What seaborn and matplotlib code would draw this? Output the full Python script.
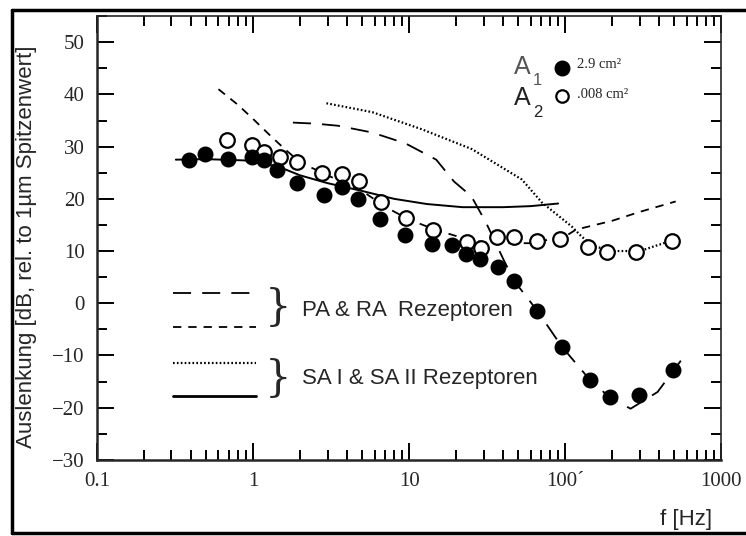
import numpy as np
import pandas as pd
import matplotlib.pyplot as plt
import matplotlib.lines as mlines
from matplotlib.ticker import LogLocator, MultipleLocator, FixedLocator, FixedFormatter
import seaborn as sns

# -------------------------
# Data
# -------------------------
f_a1 = [0.39, 0.49, 0.69, 0.98, 1.18, 1.43, 1.9, 2.86, 3.73, 4.72, 6.5, 9.4,
        14.0, 18.8, 23.1, 28.4, 37.1, 46.9, 66.0, 95.0, 144.0, 192.0, 295.0, 493.0]
v_a1 = [27.4, 28.5, 27.7, 28.1, 27.4, 25.6, 23.1, 20.8, 22.2, 19.9, 16.2, 13.0,
        11.4, 11.2, 9.5, 8.5, 7.0, 4.3, -1.4, -8.3, -14.7, -17.9, -17.6, -12.8]

f_a2 = [0.68, 0.98, 1.17, 1.48, 1.92, 2.78, 3.73, 4.8, 6.6, 9.5, 14.2, 23.5,
        28.9, 36.4, 46.9, 65.8, 92.0, 139.0, 184.0, 282.0, 480.0]
v_a2 = [31.2, 30.4, 28.9, 28.1, 27.0, 24.9, 24.7, 23.5, 19.3, 16.4, 14.1, 11.8,
        10.5, 12.6, 12.6, 12.0, 12.4, 10.8, 9.9, 9.9, 12.0]

# PA receptors (long dashes)
f_pa = [1.8, 2.5, 3.5, 5.8, 9.5, 14.9, 19.4, 25.0, 31.0, 40.0, 47.0, 66.0,
        95.0, 144.0, 192.0, 262.0, 390.0, 550.0]
v_pa = [34.6, 34.4, 34.0, 32.7, 30.6, 27.5, 23.3, 20.5, 15.5, 8.5, 4.3, -1.4,
        -8.3, -14.7, -18.0, -20.2, -17.0, -11.0]

# RA receptors (short dashes)
f_ra = [0.6, 0.8, 1.0, 1.3, 1.6, 2.0, 3.0, 5.0, 7.0, 10.0, 15.0, 25.0, 35.0,
        60.0, 100.0, 117.0, 200.0, 300.0, 510.0]
v_ra = [41.0, 38.0, 35.3, 32.0, 29.5, 27.0, 24.5, 21.5, 18.5, 16.0, 14.0, 12.0,
        11.5, 11.5, 12.8, 14.1, 15.8, 17.5, 19.5]

# SA I receptors (dotted)
f_sa1 = [2.95, 5.8, 12.1, 25.3, 52.7, 70.8, 110.0, 127.0, 150.0, 200.0, 300.0, 480.0]
v_sa1 = [38.3, 36.6, 33.3, 29.5, 23.7, 19.3, 14.7, 12.8, 11.0, 10.0, 10.0, 12.0]

# SA II receptors (solid)
f_sa2 = [0.32, 0.5, 1.0, 1.5, 2.0, 3.0, 5.0, 8.0, 13.0, 22.0, 40.0, 60.0, 90.0]
v_sa2 = [27.5, 27.6, 27.3, 26.0, 24.5, 23.0, 21.5, 20.0, 19.0, 18.4, 18.4, 18.6, 19.1]

y_ticks = [-30, -20, -10, 0, 10, 20, 30, 40, 50]
x_ticks = [0.1, 1, 10, 100, 1000]
x_labels = ["0.1", "1", "10", "100\u00b4", "1000"]

# -------------------------
# Style
# -------------------------
sns.set_style("ticks")
plt.rcParams["lines.scale_dashes"] = False
plt.rcParams["font.family"] = ["Liberation Sans", "DejaVu Sans"]

LONG, SHORT, DOT = (13, 8), (6, 5), (1.2, 1.6)

fig = plt.figure(figsize=(7.46, 5.36), dpi=100)
ax = fig.add_axes([0.130, 0.142, 0.837, 0.828])

curves = [
    (f_pa, v_pa, LONG, 1.3),
    (f_ra, v_ra, SHORT, 1.3),
    (f_sa1, v_sa1, DOT, 1.6),
    (f_sa2, v_sa2, None, 1.4),
]
for fx, vy, dash, lw in curves:
    df = pd.DataFrame({"f": fx, "v": vy})
    sns.lineplot(data=df, x="f", y="v", sort=False, color="black", lw=lw, ax=ax)
    if dash is not None:
        ax.lines[-1].set_dashes(dash)

sns.scatterplot(x=f_a2, y=v_a2, s=110, facecolor="white", edgecolor="black",
                linewidth=1.6, ax=ax, zorder=5)
sns.scatterplot(x=f_a1, y=v_a1, s=110, color="black", edgecolor="black",
                linewidth=1, ax=ax, zorder=6)

# key lines for receptor types
key_x = [0.306, 1.05]
for yy, dash in [(2.0, LONG), (-4.5, SHORT), (-11.4, DOT), (-17.8, None)]:
    ln, = ax.plot(key_x, [yy, yy], color="black", lw=1.3)
    if dash is not None:
        ln.set_dashes(dash)
        if dash == DOT:
            ln.set_linewidth(1.6)
    else:
        ln.set_linewidth(2)

ax.text(1.18, -1.0, "}", fontsize=30, family="DejaVu Serif", va="center", ha="left")
ax.text(1.18, -14.6, "}", fontsize=30, family="DejaVu Serif", va="center", ha="left")
ax.text(2.05, -1.3, "PA & RA  Rezeptoren", fontsize=16, va="center", ha="left")
ax.text(2.05, -14.5, "SA I & SA II Rezeptoren", fontsize=16, va="center", ha="left")

# size legend
ax.text(47, 45.3, "A", fontsize=18, color="#555555", va="center", ha="left")
ax.text(62, 42.6, "1", fontsize=12, color="#555555", va="center", ha="left")
ax.text(47, 39.3, "A", fontsize=18, color="#222222", va="center", ha="left")
ax.text(62, 36.6, "2", fontsize=12, color="#222222", va="center", ha="left")
ax.scatter([95], [45.0], s=110, color="black", zorder=6)
ax.scatter([95], [39.6], s=80, facecolor="white", edgecolor="black", lw=1.6, zorder=6)
ax.text(118, 45.8, "2.9 cm\u00b2", fontsize=10.5, family="Liberation Serif", va="center")
ax.text(118, 40.0, ".008 cm\u00b2", fontsize=10.5, family="Liberation Serif", va="center")

# axes
ax.set_xscale("log")
ax.set_xlim(0.1, 1000)
ax.set_ylim(-30, 55)
ax.xaxis.set_major_locator(FixedLocator(x_ticks))
ax.xaxis.set_major_formatter(FixedFormatter(x_labels))
ax.xaxis.set_minor_locator(LogLocator(base=10, subs=np.arange(2, 10)))
ax.yaxis.set_major_locator(FixedLocator(y_ticks))
ax.yaxis.set_minor_locator(MultipleLocator(5))
ax.tick_params(which="both", direction="in", top=True, right=True, width=1.4,
               color="black", labelsize=15)
ax.tick_params(which="major", length=12)
ax.tick_params(which="minor", length=7)
for lab in ax.get_xticklabels() + ax.get_yticklabels():
    lab.set_family("Liberation Serif")
ax.tick_params(axis="x", pad=9)
ax.tick_params(axis="y", pad=9)
for side in ["left", "bottom"]:
    ax.spines[side].set_linewidth(1.8)
for side in ["top", "right"]:
    ax.spines[side].set_linewidth(1.2)
ax.set_xlabel("")
ax.set_ylabel("")
fig.text(0.036, 0.54, "Auslenkung [dB, rel. to 1\u00b5m Spitzenwert]", fontsize=16,
         rotation=90, ha="center", va="center")
fig.text(0.92, 0.03, "f [Hz]", fontsize=16, ha="center", va="center")

# outer frame
W, H = 746, 536
fig.add_artist(mlines.Line2D([12 / W, 1], [1 - 10 / H, 1 - 10 / H], color="black", lw=2.5))
fig.add_artist(mlines.Line2D([12 / W, 12 / W], [1 - 10 / H, 1 - 533 / H], color="black", lw=2.5))
fig.add_artist(mlines.Line2D([12 / W, 1], [1 - 533 / H, 1 - 533 / H], color="black", lw=2.5))

fig.savefig("out.png", dpi=100)
